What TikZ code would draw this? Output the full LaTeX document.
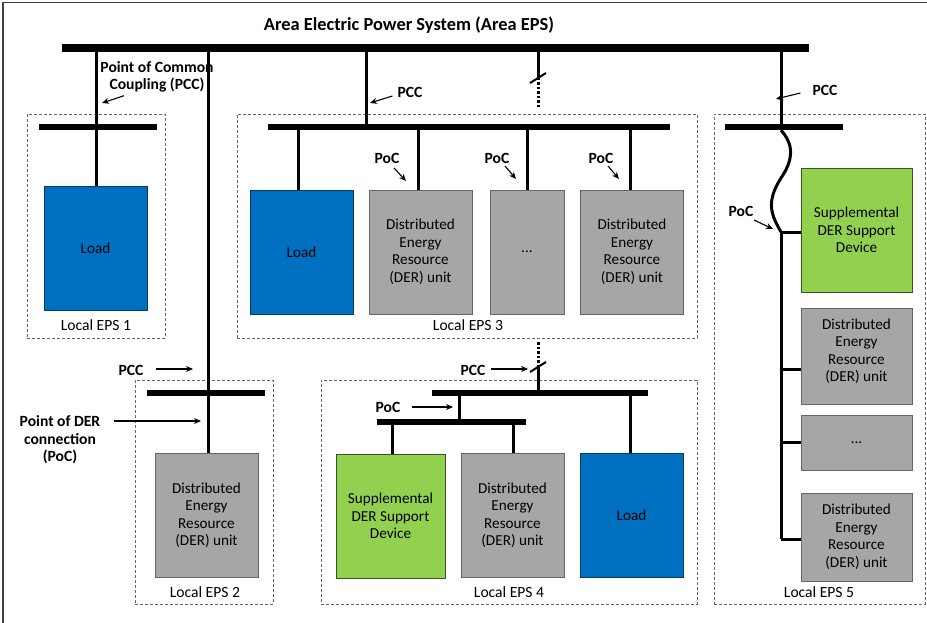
\documentclass[tikz,border=0pt]{standalone}
\usepackage{fontspec}
\setmainfont{Carlito}
\usetikzlibrary{arrows.meta, positioning, calc}
\definecolor{LoadBlue}{RGB}{0, 112, 192}
\definecolor{DerGray}{RGB}{166, 166, 166}
\definecolor{SupGreen}{RGB}{146, 208, 80}
\tikzset{
    bus/.style={draw=none, fill=black, inner sep=0pt, minimum height=6pt},
    eps/.style={draw=black!60, densely dashed, line width=0.8pt, inner sep=0pt},
    unitbox/.style={line width=0.8pt, inner sep=0pt, align=center, font=\fontsize{15.2}{17.5}\selectfont},
    load/.style={unitbox, fill=LoadBlue, draw=black!45!LoadBlue},
    der/.style={unitbox, fill=DerGray, draw=black!60},
    sup/.style={unitbox, fill=SupGreen, draw=black!60!SupGreen},
    feeder/.style={line width=3pt},
    cutline/.style={line width=3pt, dash pattern=on 2.5pt off 2pt},
    slash/.style={line width=2pt},
    tag/.style={font=\bfseries\fontsize{15.6}{17.5}\selectfont, align=center, inner sep=1pt},
    epslabel/.style={font=\fontsize{15.6}{15}\selectfont, inner sep=0pt},
    pointer/.style={-{Stealth[length=7pt,width=6pt]}, line width=1.1pt}
}
\begin{document}
\begin{tikzpicture}[x=1pt, y=-1pt]
    \useasboundingbox (0,0) rectangle (927,623);
    \draw[line width=1.5pt, black!75] (3,623) -- (3,2.5) -- (927,2.5);

    % local EPS frames
    \node[eps, minimum width=138, minimum height=224] (frame1) at (96,226) {};
    \node[eps, minimum width=460, minimum height=224] (frame3) at (467,226) {};
    \node[eps, minimum width=211, minimum height=490] (frame5) at (819.5,359) {};
    \node[eps, minimum width=138, minimum height=224] (frame2) at (204,492) {};
    \node[eps, minimum width=376, minimum height=224] (frame4) at (509,492) {};

    % bus bars
    \node[bus, minimum width=747, minimum height=8] (busA) at (435.5,48) {};
    \node[bus, minimum width=118] (bus1) at (98,127) {};
    \node[bus, minimum width=402] (bus3) at (469,127) {};
    \node[bus, minimum width=118] (bus5) at (784,127) {};
    \node[bus, minimum width=118] (bus2) at (206,393) {};
    \node[bus, minimum width=216] (bus4) at (540,393) {};
    \node[bus, minimum width=149] (bus4b) at (451.5,422) {};

    % units
    \node[load, minimum width=103, minimum height=124] (load1) at (95.5,248) {Load};
    \node[load, minimum width=103, minimum height=124] (load3) at (301.5,252) {Load};
    \node[der, minimum width=103, minimum height=124] (der3a) at (420.5,252) {Distributed\\Energy\\Resource\\(DER) unit};
    \node[der, minimum width=74, minimum height=124] (dots3) at (527,252) {...};
    \node[der, minimum width=103, minimum height=124] (der3b) at (632,252) {Distributed\\Energy\\Resource\\(DER) unit};
    \node[der, minimum width=103, minimum height=124] (der2) at (206.5,515.5) {Distributed\\Energy\\Resource\\(DER) unit};
    \node[sup, minimum width=109, minimum height=124] (sup4) at (390.5,516) {Supplemental\\DER Support\\Device};
    \node[der, minimum width=103, minimum height=124] (der4) at (512.5,515.5) {Distributed\\Energy\\Resource\\(DER) unit};
    \node[load, minimum width=103, minimum height=124] (load4) at (631.5,515.5) {Load};
    \node[sup, minimum width=111, minimum height=124] (sup5) at (856.5,230) {Supplemental\\DER Support\\Device};
    \node[der, minimum width=111, minimum height=96] (der5a) at (856.5,356) {};
    \node[unitbox] (der5atext) at (856.5,351.5) {Distributed\\Energy\\Resource\\(DER) unit};
    \node[der, minimum width=111, minimum height=55] (dots5) at (856.5,442.5) {...};
    \node[der, minimum width=111, minimum height=88] (der5b) at (856.5,537) {Distributed\\Energy\\Resource\\(DER) unit};

    % junctions
    \coordinate (cutA) at (538,78);
    \coordinate (cutAend) at (538,107);
    \coordinate (cutB) at (538,367);
    \coordinate (cutBend) at (538,342);
    \coordinate (join5) at (781,232);
    \coordinate (end5) at (781,539);

    % feeders
    \draw[feeder] (load1.north -| 96,0) -- (busA.south -| 96,0);
    \draw[feeder] (busA.south -| 208,0) -- (der2.north -| 208,0);
    \draw[feeder] (busA.south -| 366,0) -- (bus3.north -| 366,0);
    \draw[feeder] (busA.south -| cutA) -- (cutA);
    \draw[cutline] (cutA) -- (cutAend);
    \draw[slash] ($(cutA)+(-8,5)$) -- ($(cutA)+(8,-5)$);
    \draw[feeder] (bus3.south -| 298,0) -- (load3.north -| 298,0);
    \draw[feeder] (bus3.south -| 418,0) -- (der3a.north -| 418,0);
    \draw[feeder] (bus3.south -| dots3.north) -- (dots3.north);
    \draw[feeder] (bus3.south -| 630,0) -- (der3b.north -| 630,0);

    \draw[cutline] (cutBend) -- (cutB);
    \draw[slash] ($(cutB)+(-8,5)$) -- ($(cutB)+(8,-5)$);
    \draw[feeder] (cutB) -- (bus4.north -| cutB);
    \draw[feeder] (bus4.south -| 459,0) -- (bus4b.north -| 459,0);
    \draw[feeder] (bus4b.south -| 392,0) -- (sup4.north -| 392,0);
    \draw[feeder] (bus4b.south -| 513,0) -- (der4.north -| 513,0);
    \draw[feeder] (bus4.south -| 630,0) -- (load4.north -| 630,0);

    \draw[feeder] (busA.south -| join5) -- (bus5.north -| join5);
    \draw[feeder] (bus5.south -| join5) .. controls (790,140) and (797,155) .. (781,178)
        .. controls (765,203) and (772,216) .. (join5);
    \draw[feeder] (join5) -- (end5);
    \draw[feeder] (join5) -- (join5 -| sup5.west);
    \draw[feeder] (end5 |- 0,369) -- (der5a.west |- 0,369);
    \draw[feeder] (end5 |- dots5.west) -- (dots5.west);
    \draw[feeder] (end5) -- (end5 -| der5b.west);

    % labels
    \node[tag, font=\bfseries\fontsize{18.4}{20}\selectfont] (title) at (409,25) {Area Electric Power System (Area EPS)};
    \node[tag] (pcc1) at (157,77) {Point of Common\\Coupling (PCC)};
    \node[tag] (pcc3) at (410,92) {PCC};
    \node[tag] (pcc5) at (825,90) {PCC};
    \node[tag] (pcc2) at (131,370) {PCC};
    \node[tag] (pcc4) at (473,370) {PCC};
    \node[tag] (poc2) at (60,440) {Point of DER\\connection\\(PoC)};
    \node[tag] (poc3a) at (387,158) {PoC};
    \node[tag] (poc3b) at (497,158) {PoC};
    \node[tag] (poc3c) at (601,158) {PoC};
    \node[tag] (poc4) at (388,407) {PoC};
    \node[tag] (poc5) at (741,211) {PoC};

    \node[epslabel] (name1) at (96,325) {Local EPS 1};
    \node[epslabel] (name3) at (468,325) {Local EPS 3};
    \node[epslabel] (name2) at (205,592) {Local EPS 2};
    \node[epslabel] (name4) at (509,592) {Local EPS 4};
    \node[epslabel] (name5) at (819,592) {Local EPS 5};

    % pointers
    \coordinate (tip1) at (102,103);
    \coordinate (tip3) at (370,103);
    \coordinate (tip5) at (776,99);
    \coordinate (tip2) at (193,369);
    \coordinate (tip4) at (528,369);
    \coordinate (tipder) at (201,421);
    \coordinate (tip3a) at (406,181);
    \coordinate (tip3b) at (516,179);
    \coordinate (tip3c) at (619,179);
    \coordinate (tip4b) at (453,407);
    \coordinate (tip5b) at (773,229);

    \draw[pointer] (pcc1.south) ++(-33,2) -- (tip1);
    \draw[pointer] (pcc3.west) ++(-4,4) -- (tip3);
    \draw[pointer] (pcc5.west) ++(-11,3) -- (tip5);
    \draw[pointer] (pcc2.east) ++(11,-1) -- (tip2);
    \draw[pointer] (pcc4.east) ++(4,-1) -- (tip4);
    \draw[pointer] (poc2.east) ++(13,-19) -- (tipder);
    \draw[pointer] (poc3a) ++(7,10) -- (tip3a);
    \draw[pointer] (poc3b) ++(8,8) -- (tip3b);
    \draw[pointer] (poc3c) ++(7,8) -- (tip3c);
    \draw[pointer] (poc4.east) ++(10,0) -- (tip4b);
    \draw[pointer] (poc5) ++(13,9) -- (tip5b);
\end{tikzpicture}
\end{document}
